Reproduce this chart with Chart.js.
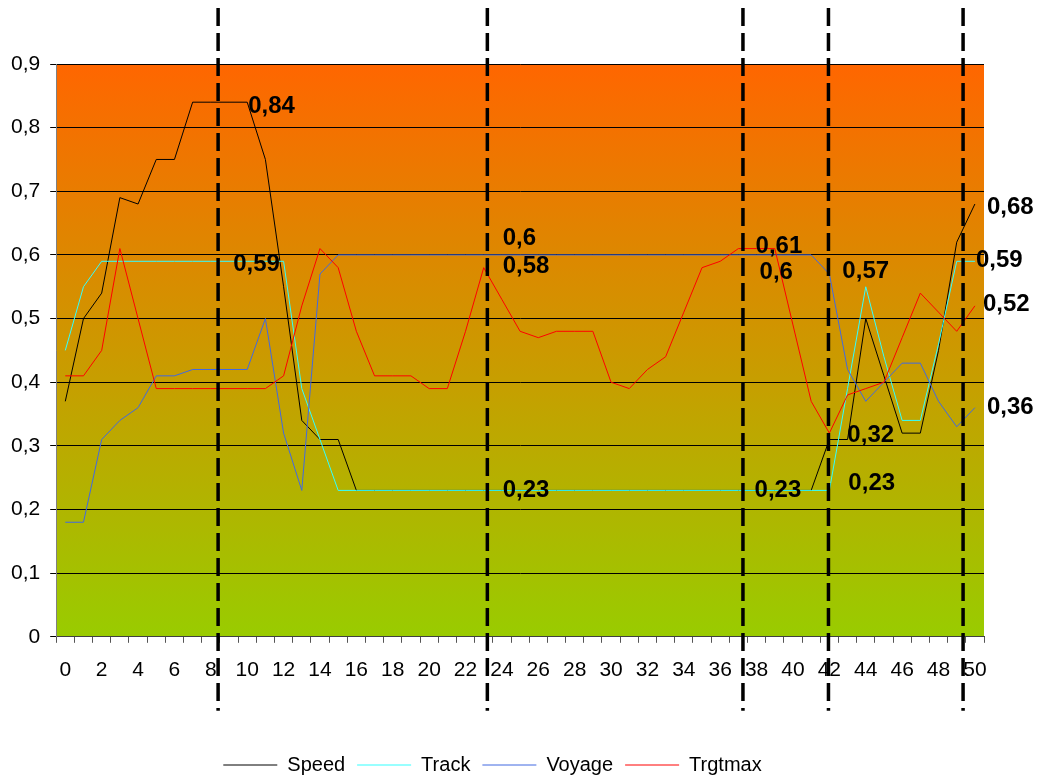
<!DOCTYPE html>
<html>
<head>
<meta charset="utf-8">
<script src="https://cdn.jsdelivr.net/npm/chart.js@4/dist/chart.umd.min.js"></script>
<style>
  body { margin: 0; background: #fff; }
</style>
</head>
<body>
<canvas id="chart" width="1045" height="775"></canvas>
<script>
'use strict';

var categories = ['0','1','2','3','4','5','6','7','8','9','10','11','12','13','14','15','16','17','18','19','20',
  '21','22','23','24','25','26','27','28','29','30','31','32','33','34','35','36','37','38','39','40',
  '41','42','43','44','45','46','47','48','49','50'];

var speed = [0.37, 0.50, 0.54, 0.69, 0.68, 0.75, 0.75, 0.84, 0.84, 0.84, 0.84, 0.75, 0.55, 0.34, 0.31, 0.31,
  0.23, 0.23, 0.23, 0.23, 0.23, 0.23, 0.23, 0.23, 0.23, 0.23, 0.23, 0.23, 0.23, 0.23, 0.23, 0.23, 0.23,
  0.23, 0.23, 0.23, 0.23, 0.23, 0.23, 0.23, 0.23, 0.23,
  0.31, 0.31, 0.50, 0.41, 0.32, 0.32, 0.45, 0.62, 0.68];

var track = [0.45, 0.55, 0.59, 0.59, 0.59, 0.59, 0.59, 0.59, 0.59, 0.59, 0.59, 0.59, 0.59, 0.39, 0.31,
  0.23, 0.23, 0.23, 0.23, 0.23, 0.23, 0.23, 0.23, 0.23, 0.23, 0.23, 0.23, 0.23, 0.23, 0.23, 0.23, 0.23,
  0.23, 0.23, 0.23, 0.23, 0.23, 0.23, 0.23, 0.23, 0.23, 0.23, 0.23,
  0.39, 0.55, 0.44, 0.34, 0.34, 0.46, 0.59, 0.59];

var voyage = [0.18, 0.18, 0.31, 0.34, 0.36, 0.41, 0.41, 0.42, 0.42, 0.42, 0.42, 0.50, 0.32, 0.23, 0.57,
  0.60, 0.60, 0.60, 0.60, 0.60, 0.60, 0.60, 0.60, 0.60, 0.60, 0.60, 0.60, 0.60, 0.60, 0.60, 0.60, 0.60,
  0.60, 0.60, 0.60, 0.60, 0.60, 0.60, 0.60, 0.60, 0.60, 0.60,
  0.57, 0.42, 0.37, 0.40, 0.43, 0.43, 0.37, 0.33, 0.36];

var trgtmax = [0.41, 0.41, 0.45, 0.61, 0.50, 0.39, 0.39, 0.39, 0.39, 0.39, 0.39, 0.39, 0.41, 0.52, 0.61,
  0.58, 0.48, 0.41, 0.41, 0.41, 0.39, 0.39, 0.48, 0.58, 0.53, 0.48, 0.47, 0.48, 0.48, 0.48, 0.40, 0.39,
  0.42, 0.44, 0.51, 0.58, 0.59, 0.61, 0.61, 0.61, 0.49, 0.37, 0.32, 0.38, 0.39, 0.40, 0.47, 0.54, 0.51,
  0.48, 0.52];

var yTicks = [0, 0.1, 0.2, 0.3, 0.4, 0.5, 0.6, 0.7, 0.8, 0.9];

// dashed markers, in category units
var markers = [8.4, 23.2, 37.25, 41.95, 49.35];

// labelled points: dataset index and category index
var labelSeries = [0, 1, 2, 3, 1, 3, 2, 1, 2, 3, 1, 0, 1, 3, 2];
var labelIndex  = [10, 10, 23, 23, 23, 38, 38, 38, 42, 42, 42, 50, 50, 50, 50];
// pixel offsets of each label from its point
var labelOffsets = [[1, 4], [-14, 3], [19, -17], [19, -1], [19, 0], [-1, -2], [3, 17], [-2, 0],
  [13, -3], [18, 2], [19, -7], [12, 3], [1, -1], [8, -1], [12, 0]];

function comma(v) {
  return v === 0 ? '0' : String(Math.round(v * 100) / 100).replace('.', ',');
}

var background = {
  id: 'background',
  beforeDraw: function(chart) {
    var a = chart.chartArea, ctx = chart.ctx;
    var g = ctx.createLinearGradient(0, a.top, 0, a.bottom);
    g.addColorStop(0, '#FF6600');
    g.addColorStop(1, '#99CC00');
    ctx.save();
    ctx.fillStyle = g;
    ctx.fillRect(a.left, a.top, a.right - a.left, a.bottom - a.top);
    ctx.restore();
  }
};

var extras = {
  id: 'extras',
  afterDatasetsDraw: function(chart) {
    var ctx = chart.ctx, a = chart.chartArea, xs = chart.scales.x;
    ctx.save();
    ctx.strokeStyle = '#000';
    ctx.lineWidth = 3.5;
    ctx.setLineDash([18, 7]);
    markers.forEach(function(m) {
      var x = xs.getPixelForValue(m);
      ctx.beginPath();
      ctx.moveTo(x, a.top - 56);
      ctx.lineTo(x, a.bottom + 74);
      ctx.stroke();
    });
    ctx.setLineDash([]);
    ctx.fillStyle = '#000';
    ctx.font = 'bold 24px "Liberation Sans", Arial, sans-serif';
    ctx.textAlign = 'left';
    ctx.textBaseline = 'middle';
    labelSeries.forEach(function(s, k) {
      var pt = chart.getDatasetMeta(s).data[labelIndex[k]];
      var v = chart.data.datasets[s].data[labelIndex[k]];
      ctx.fillText(comma(v), pt.x + labelOffsets[k][0], pt.y + labelOffsets[k][1]);
    });
    ctx.restore();
  }
};

// later series are drawn on top, as in the original
function series(label, data, color, order) {
  return {
    label: label,
    data: data,
    borderColor: color,
    backgroundColor: color,
    borderWidth: 1,
    pointRadius: 0,
    tension: 0,
    order: order
  };
}

Chart.defaults.font.family = '"Liberation Sans", Arial, sans-serif';
Chart.defaults.color = '#000';

new Chart(document.getElementById('chart'), {
  type: 'line',
  data: {
    labels: categories,
    datasets: [
      series('Speed', speed, '#000000', 4),
      series('Track', track, '#33FFFF', 3),
      series('Voyage', voyage, '#4169E1', 2),
      series('Trgtmax', trgtmax, '#FF0000', 1)
    ]
  },
  options: {
    responsive: false,
    animation: false,
    layout: { padding: { top: 64, right: 61, left: 1, bottom: -10 } },
    scales: {
      x: {
        offset: true,
        grid: { offset: true, drawOnChartArea: false, tickLength: 6, color: '#555' },
        border: { color: '#404040' },
        ticks: {
          autoSkip: false,
          maxRotation: 0,
          padding: 15,
          font: { size: 21 },
          callback: function(v, i) { return i % 2 === 0 ? categories[i] : ''; }
        },
        title: { display: true, text: ' ', font: { size: 10 }, padding: { top: 0, bottom: 33 } }
      },
      y: {
        min: 0,
        max: 0.9,
        afterBuildTicks: function(scale) {
          scale.ticks = yTicks.map(function(v) { return { value: v }; });
        },
        grid: { color: '#000', tickLength: 6 },
        border: { color: '#808080' },
        ticks: {
          padding: 10,
          font: { size: 21 },
          callback: function(v) { return comma(v); }
        }
      }
    },
    plugins: {
      legend: {
        position: 'bottom',
        labels: {
          usePointStyle: true,
          pointStyle: 'line',
          pointStyleWidth: 54,
          padding: 12,
          font: { size: 20 },
          color: '#000',
          sort: function(a, b) { return a.datasetIndex - b.datasetIndex; }
        }
      },
      tooltip: { enabled: false }
    }
  },
  plugins: [background, extras]
});
</script>
</body>
</html>
